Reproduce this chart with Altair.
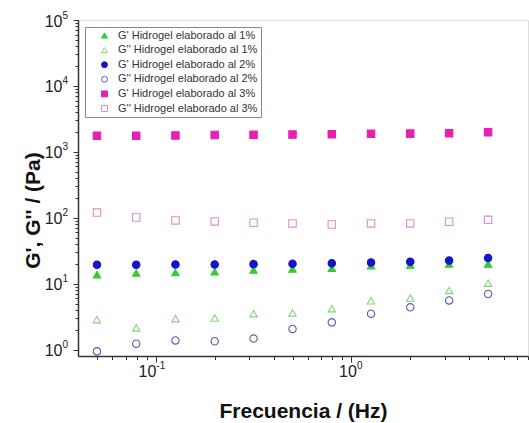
import altair as alt
import pandas as pd

freq = [0.05, 0.0794, 0.126, 0.2, 0.316, 0.5, 0.794, 1.26, 2.0, 3.16, 5.0]
series_names = [
    "G' Hidrogel elaborado al 1%",
    "G'' Hidrogel elaborado al 1%",
    "G' Hidrogel elaborado al 2%",
    "G'' Hidrogel elaborado al 2%",
    "G' Hidrogel elaborado al 3%",
    "G'' Hidrogel elaborado al 3%",
]
g1_storage = [13.7, 14.5, 14.8, 15.2, 16.1, 16.7, 17.1, 18.7, 19.2, 19.9, 19.9]
g1_loss = [2.85, 2.13, 2.95, 3.02, 3.51, 3.6, 4.18, 5.5, 6.07, 7.9, 10.2]
g2_storage = [19.4, 19.4, 19.6, 19.6, 19.8, 20.0, 20.5, 21.0, 21.5, 22.5, 24.5]
g2_loss = [0.94, 1.23, 1.38, 1.34, 1.47, 2.06, 2.59, 3.51, 4.38, 5.58, 6.98]
g3_storage = [1750, 1760, 1770, 1800, 1810, 1830, 1850, 1880, 1890, 1920, 1980]
g3_loss = [120, 101, 91, 88, 84, 82, 79, 82, 82, 87, 93]

shapes = ["triangle-up", "triangle-up", "circle", "circle", "square", "square"]
fills = ["#33cc33", "transparent", "#1414c8", "transparent", "#e81fb4", "transparent"]
strokes = ["#33cc33", "#7fd67f", "#1414c8", "#5a5ab4", "#e81fb4", "#de8ccd"]

x_major = [0.1, 1]
y_major = [1, 10, 100, 1000, 10000, 100000]
x_minor = [0.05, 0.06, 0.07, 0.08, 0.09, 0.2, 0.3, 0.4, 0.5, 0.6, 0.7, 0.8, 0.9,
           2, 3, 4, 5, 6, 7, 8]
y_minor = [m * 10 ** k for k in range(0, 5) for m in range(2, 10)]

rows = []
for name, vals in zip(series_names, [g1_storage, g1_loss, g2_storage, g2_loss, g3_storage, g3_loss]):
    for f, v in zip(freq, vals):
        rows.append({"freq": f, "mod": v, "series": name})
df = pd.DataFrame(rows)

FONT = "Liberation Sans"
AX = "#333333"

xscale = alt.Scale(type="log", domain=[0.04, 8])
yscale = alt.Scale(type="log", domain=[0.8, 100000])

legend = alt.Legend(
    title=None, orient="none", legendX=7, legendY=7,
    fillColor="white", strokeColor="#888888", padding=3,
    labelFont=FONT, labelFontSize=11, labelColor="#333333",
    symbolSize=35, symbolStrokeWidth=1, rowPadding=2.6,
    labelOffset=8, symbolOffset=11, labelLimit=300,
)

x_off = {"condition": {"test": "datum.value < 0.5", "value": 0}, "value": 5}
is_major_x = "(datum.value > 0.09 && datum.value < 0.11) || (datum.value > 0.9 && datum.value < 1.1)"
is_major_y = "abs(log(datum.value) / LN10 - round(log(datum.value) / LN10)) < 0.001"

main = alt.Chart(df).mark_point(size=55, strokeWidth=1.1, opacity=1).encode(
    x=alt.X("freq:Q", scale=xscale, axis=alt.Axis(
        orient="bottom", values=x_major, labelExpr="'10'", title="Frecuencia / (Hz)",
        grid=False, tickSize=6, tickColor=AX, domainColor=AX, domainWidth=1.5,
        labelFont=FONT, labelFontSize=16, labelColor="#222222", labelAlign="right",
        labelBaseline="top", labelPadding=1, labelOffset=x_off, labelFlush=False,
        titleFont=FONT, titleFontSize=21, titleFontWeight="bold", titleColor="#111111",
        titleBaseline="alphabetic", titleY=61)),
    y=alt.Y("mod:Q", scale=yscale, axis=alt.Axis(
        orient="left", values=y_major, labelExpr="'10'", title="G', G'' / (Pa)",
        grid=False, tickSize=5, tickColor=AX, domainColor=AX, domainWidth=1.5,
        labelFont=FONT, labelFontSize=16, labelColor="#222222", labelAlign="right",
        labelBaseline="middle", labelPadding=11, labelOffset=1, labelFlush=False,
        titleFont=FONT, titleFontSize=21, titleFontWeight="bold", titleColor="#111111",
        titleBaseline="middle", titleX=-45, titleY=190)),
    shape=alt.Shape("series:N", sort=series_names,
                    scale=alt.Scale(domain=series_names, range=shapes), legend=legend),
    fill=alt.Fill("series:N", sort=series_names,
                  scale=alt.Scale(domain=series_names, range=fills), legend=legend),
    stroke=alt.Stroke("series:N", sort=series_names,
                      scale=alt.Scale(domain=series_names, range=strokes), legend=legend),
)

# second axis pair: exponent labels on major values plus all minor ticks
expo = alt.Chart(df).mark_point(opacity=0).encode(
    x=alt.X("freq:Q", scale=xscale, axis=alt.Axis(
        orient="bottom", values=x_major + x_minor,
        labelExpr="(" + is_major_x + ") ? ('' + round(log(datum.value) / LN10)) : ''",
        title=None, grid=False, ticks=True, tickSize=3.5, tickColor=AX, domain=False,
        labelFont=FONT, labelFontSize=10, labelColor="#222222", labelAlign="left",
        labelBaseline="top", labelPadding=0.5, labelOffset=x_off, labelFlush=False,
        labelOverlap=False)),
    y=alt.Y("mod:Q", scale=yscale, axis=alt.Axis(
        orient="left", values=y_major + y_minor,
        labelExpr="(" + is_major_y + ") ? ('' + round(log(datum.value) / LN10)) : ''",
        title=None, grid=False, ticks=True, tickSize=3, tickColor=AX, domain=False,
        labelFont=FONT, labelFontSize=10, labelColor="#222222", labelAlign="left",
        labelBaseline="middle", labelPadding=13, labelOffset=-5, labelFlush=False,
        labelOverlap=False)),
)

chart = alt.layer(main, expo).resolve_axis(
    x="independent", y="independent"
).properties(
    width=450, height=336,
    autosize=alt.AutoSizeParams(type="none"),
    padding={"left": 78, "top": 20, "right": 1, "bottom": 67},
).configure_view(
    stroke="#444444", strokeWidth=1.5
).configure(background="white")

chart.save("out.html", embed_options={"renderer": "svg", "actions": False})
